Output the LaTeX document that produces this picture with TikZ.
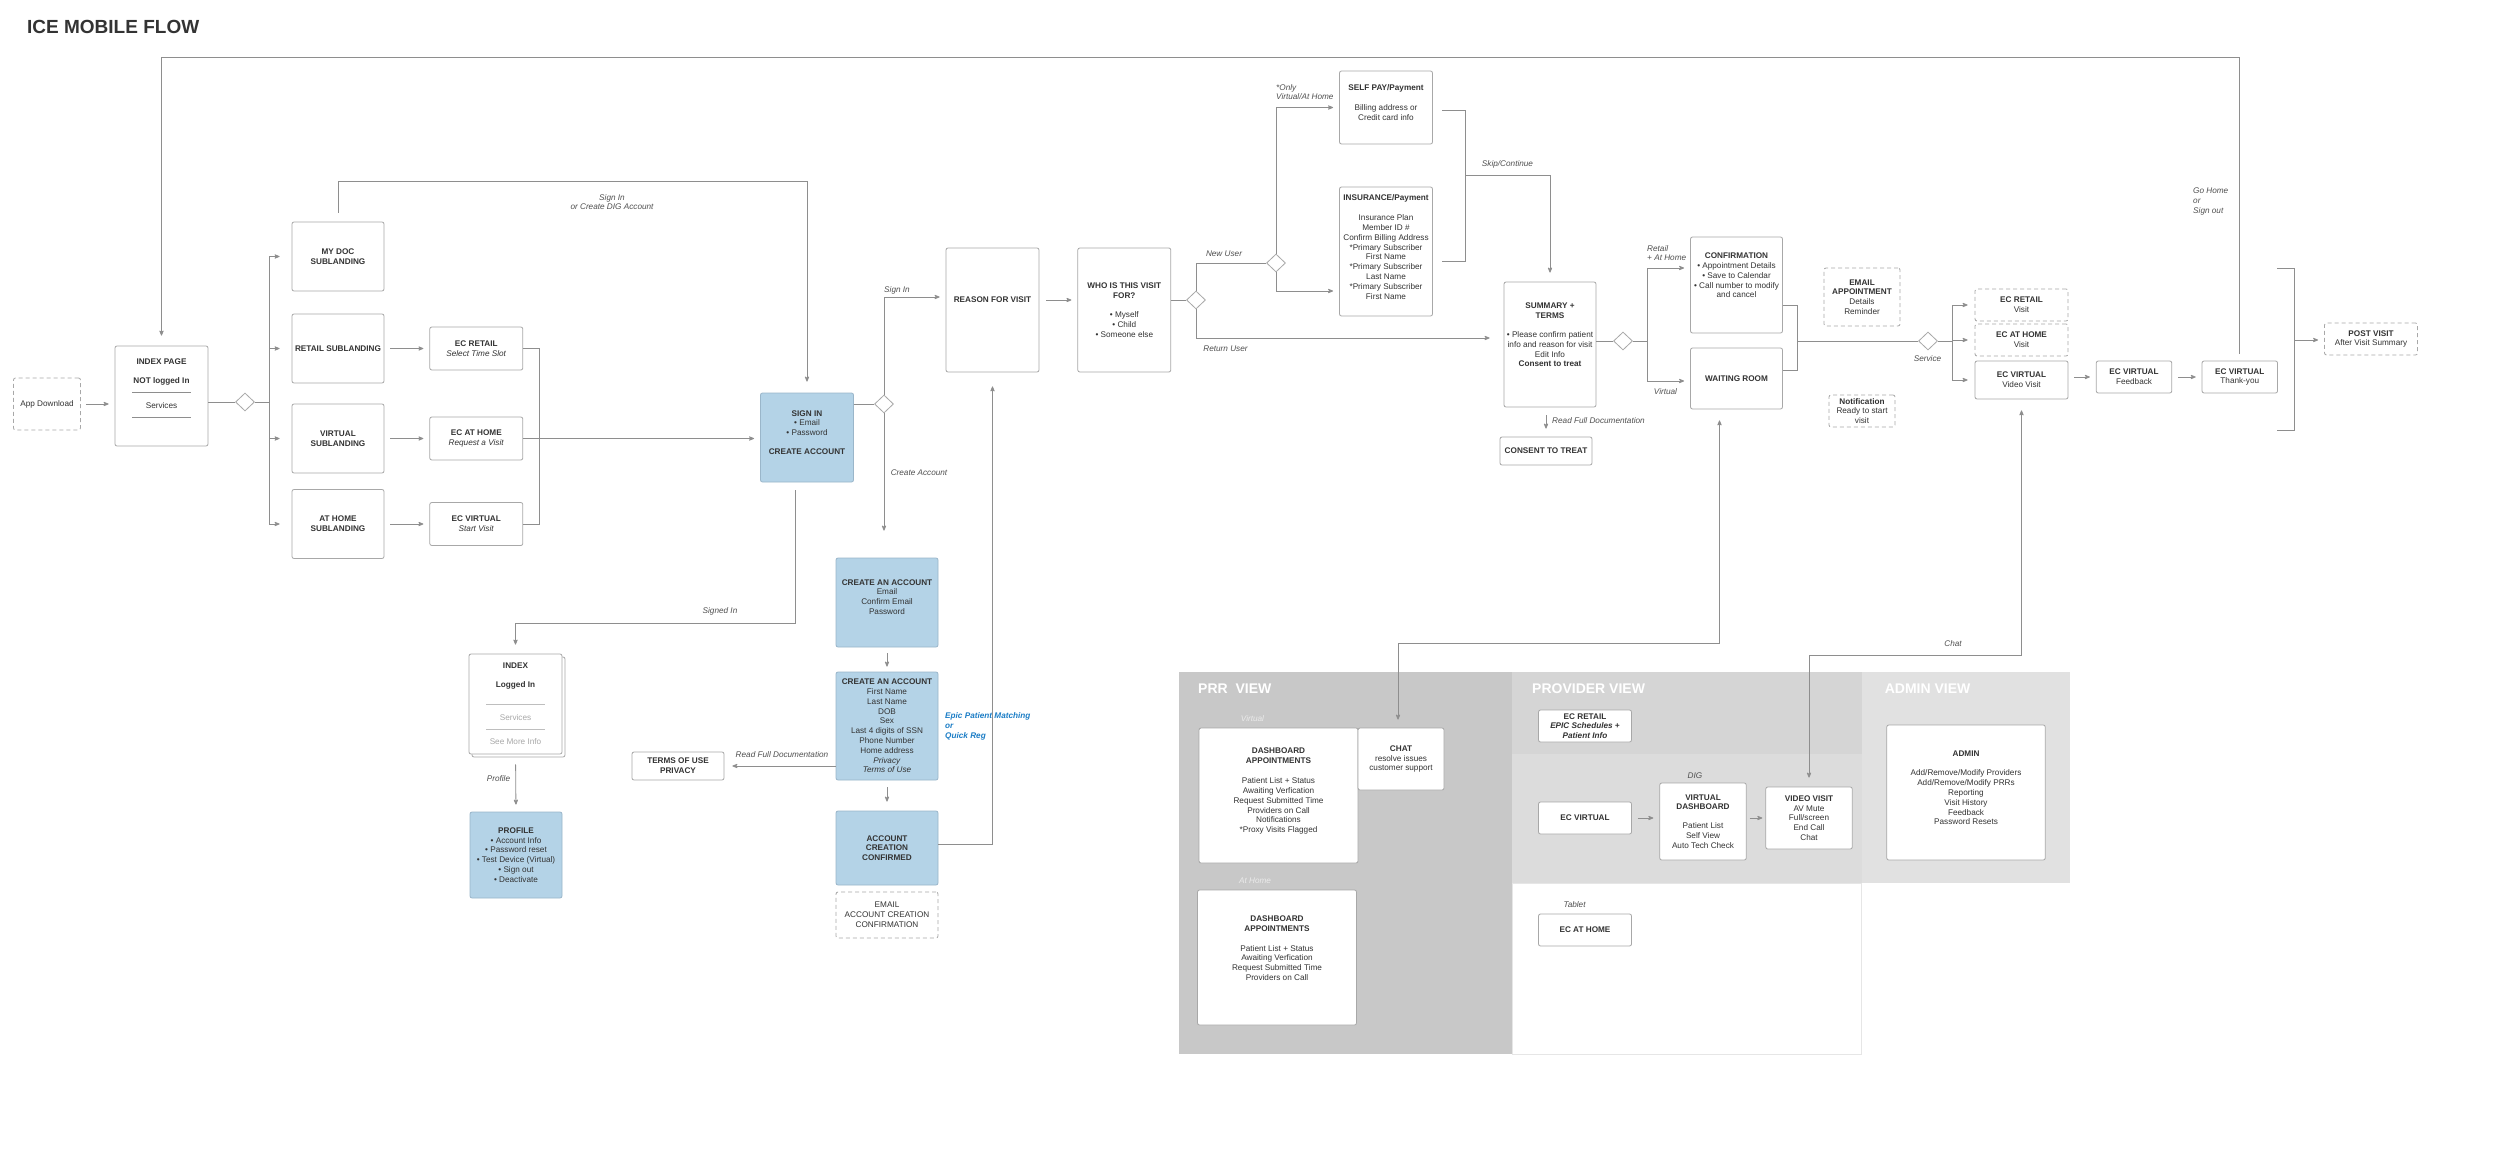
\documentclass[tikz,border=0pt]{standalone}
\usepackage{fontspec}
\setmainfont{Liberation Sans}
\usepackage{tikz}
\usetikzlibrary{arrows,positioning,shapes.geometric,shadows}

\definecolor{linegray}{HTML}{8E8E8E}
\definecolor{boxgray}{HTML}{A8A8A8}
\definecolor{textdark}{HTML}{333333}
\definecolor{labelgray}{HTML}{505050}
\definecolor{softgray}{HTML}{A8A8A8}
\definecolor{rulegray}{HTML}{BEBEBE}
\definecolor{bluefill}{HTML}{B4D3E7}
\definecolor{blueline}{HTML}{9AB6CA}
\definecolor{epicblue}{HTML}{1B7DC6}
\definecolor{prrgray}{HTML}{C8C8C8}
\definecolor{provtop}{HTML}{D5D5D5}
\definecolor{provmid}{HTML}{DCDCDC}
\definecolor{admingray}{HTML}{E1E1E1}
\definecolor{panelline}{HTML}{E6E6E6}
\definecolor{paletext}{HTML}{EBEBEB}

\newcommand{\flowfont}{\fontsize{8.2}{9.8}\selectfont}

\begin{document}
\begin{tikzpicture}[x=1pt, y=-1pt, >=stealth', font=\flowfont, text=textdark,
    box/.style={draw=boxgray, line width=0.8pt, fill=white, rounded corners=2pt,
                align=center, inner sep=1pt, minimum width=93pt},
    dashbox/.style={box, dash pattern=on 4pt off 3pt},
    bluebox/.style={box, draw=blueline, fill=bluefill},
    decision/.style={diamond, draw=boxgray, line width=0.8pt, fill=white,
                     minimum width=19pt, minimum height=18pt, inner sep=0pt},
    lift/.style={text depth=#1},
    conn/.style={draw=linegray, line width=0.8pt},
    flow/.style={conn, ->, shorten >=6pt},
    flowboth/.style={conn, <->},
    lbl/.style={font=\flowfont\itshape, text=labelgray, inner sep=0pt, align=center},
    paneltitle/.style={font=\fontsize{14}{16}\selectfont\bfseries, text=white,
                       anchor=west, inner sep=0pt}]

    \useasboundingbox (0,0) rectangle (2500,1161);
    \fill[white] (0,0) rectangle (2500,1161);

    % Panels {PRR, provider, admin}
    \fill[prrgray] (1179,672) rectangle (1512,1054);
    \fill[provtop] (1512,672) rectangle (1861.5,754);
    \fill[provmid] (1512,754) rectangle (1861.5,883);
    \draw[panelline, line width=0.8pt, fill=white] (1512,883) rectangle (1861.5,1054);
    \fill[admingray] (1861.5,672) rectangle (2070,883);

    % Nodes {entry, sublanding}
    \node[font=\fontsize{19}{22}\selectfont\bfseries, anchor=west, inner sep=0pt] (title) at (27,27) {ICE MOBILE FLOW};
    \node[dashbox, minimum width=67pt, minimum height=52pt] (appdl) at (47,404) {App Download};
    \node[box, minimum height=100pt, lift=15pt] (index) at (161.5,396)
        {\textbf{INDEX PAGE}\\[9.2pt]\textbf{NOT logged In}\\[-0.8pt]\textcolor{linegray}{\rule{59pt}{0.8pt}}\\[6.2pt]Services\\[-0.8pt]\textcolor{linegray}{\rule{59pt}{0.8pt}}};
    \node[decision] (split1) at (245,402) {};
    \coordinate (trunk) at (269,402);

    \node[box, minimum width=92pt, minimum height=69pt] (mydoc) at (338,256.5) {\textbf{MY DOC}\\\textbf{SUBLANDING}};
    \node[box, minimum width=92pt, minimum height=69pt] (retailsub) at (338,348.5) {\textbf{RETAIL SUBLANDING}};
    \node[box, minimum width=92pt, minimum height=69pt] (virtualsub) at (338,438.5) {\textbf{VIRTUAL}\\\textbf{SUBLANDING}};
    \node[box, minimum width=92pt, minimum height=69pt] (homesub) at (338,524) {\textbf{AT HOME}\\\textbf{SUBLANDING}};
    \node[box, minimum height=43pt, right=45pt of retailsub] (ecretail) {\textbf{EC RETAIL}\\\textit{Select Time Slot}};
    \node[box, minimum height=43pt, right=45pt of virtualsub] (echome) {\textbf{EC AT HOME}\\\textit{Request a Visit}};
    \node[box, minimum height=43pt, right=45pt of homesub] (ecvirtual) {\textbf{EC VIRTUAL}\\\textit{Start Visit}};

    % Nodes {sign in, account}
    \node[bluebox, minimum height=89pt, lift=10pt] (signin) at (807,437.5)
        {\textbf{SIGN IN}\\• Email\\• Password\\[9.2pt]\textbf{CREATE ACCOUNT}};
    \node[decision] (split2) at (884,404) {};
    \node[bluebox, minimum width=102pt, minimum height=89pt, lift=11pt] (create1) at (887,602.5)
        {\textbf{CREATE AN ACCOUNT}\\Email\\Confirm Email\\Password};
    \node[bluebox, minimum width=102pt, minimum height=108pt] (create2) at (887,726)
        {\textbf{CREATE AN ACCOUNT}\\First Name\\Last Name\\DOB\\Sex\\Last 4 digits of SSN\\Phone Number\\Home address\\\textit{Privacy}\\\textit{Terms of Use}};
    \node[bluebox, minimum width=102pt, minimum height=74pt] (confirmed) at (887,848)
        {\textbf{ACCOUNT}\\\textbf{CREATION}\\\textbf{CONFIRMED}};
    \node[dashbox, minimum width=102pt, minimum height=46pt] (emailconf) at (887,915)
        {EMAIL\\ACCOUNT CREATION\\CONFIRMATION};
    \node[box, minimum width=92pt, minimum height=28pt] (terms) at (678,766) {\textbf{TERMS OF USE}\\\textbf{PRIVACY}};
    \node[anchor=west, align=left, inner sep=0pt, text=epicblue, font=\flowfont\bfseries\itshape] (epic) at (945,726.5)
        {Epic Patient Matching\\or\\Quick Reg};
    \node[box, minimum height=100pt, copy shadow={shadow xshift=3pt, shadow yshift=-3pt}] (index2) at (515.5,704)
        {\textbf{INDEX}\\[9.2pt]\textbf{Logged In}\\[7.2pt]\textcolor{rulegray}{\rule{59pt}{0.6pt}}\\[6.2pt]\textcolor{softgray}{Services}\\[-0.8pt]\textcolor{rulegray}{\rule{59pt}{0.6pt}}\\[5.2pt]\textcolor{softgray}{See More Info}};
    \node[bluebox, minimum width=92pt, minimum height=86pt] (profile) at (516,855)
        {\textbf{PROFILE}\\• Account Info\\• Password reset\\• Test Device (Virtual)\\• Sign out\\• Deactivate};

    % Nodes {visit flow}
    \node[box, minimum height=124pt, lift=20pt] (reason) at (992.5,310) {\textbf{REASON FOR VISIT}};
    \node[box, minimum height=124pt, right=38pt of reason] (who)
        {\textbf{WHO IS THIS VISIT}\\\textbf{FOR?}\\[9.2pt]• Myself\\• Child\\• Someone else};
    \node[decision] (split3) at (1196,300) {};
    \node[decision] (split4) at (1276,263) {};
    \node[box, minimum height=73pt, lift=10pt] (selfpay) at (1386,107.5)
        {\textbf{SELF PAY/Payment}\\[10.2pt]Billing address or\\Credit card info};
    \node[box, minimum height=129pt, lift=9pt] (insurance) at (1386,251.5)
        {\textbf{INSURANCE/Payment}\\[10.2pt]Insurance Plan\\Member ID \#\\Confirm Billing Address\\*Primary Subscriber\\First Name\\*Primary Subscriber\\Last Name\\*Primary Subscriber\\First Name};
    \coordinate (paytop) at (1442,110);
    \coordinate (paybot) at (1442,261);
    \coordinate (payjoin) at (1465,175);
    \node[box, minimum width=92pt, minimum height=125pt, lift=19pt] (summary) at (1550,344.5)
        {\textbf{SUMMARY +}\\\textbf{TERMS}\\[9.2pt]• Please confirm patient\\info and reason for visit\\Edit Info\\\textbf{Consent to treat}};
    \node[box, minimum width=92pt, minimum height=28pt] (consent) at (1546,451) {\textbf{CONSENT TO TREAT}};
    \node[decision] (split5) at (1623,341) {};
    \coordinate (visitfork) at (1647,341);
    \node[box, minimum width=92pt, minimum height=96pt, lift=19pt] (confirm) at (1736.5,285)
        {\textbf{CONFIRMATION}\\• Appointment Details\\• Save to Calendar\\• Call number to modify\\and cancel};
    \node[box, minimum width=92pt, minimum height=61pt] (waiting) at (1736.5,378.5) {\textbf{WAITING ROOM}};
    \coordinate (visitjoin) at (1797,341);
    \node[dashbox, minimum width=76pt, minimum height=58pt] (emailappt) at (1862,297)
        {\textbf{EMAIL}\\\textbf{APPOINTMENT}\\Details\\Reminder};
    \node[dashbox, minimum width=66pt, minimum height=32pt] (notify) at (1862,411)
        {\textbf{Notification}\\Ready to start\\visit};
    \node[decision] (split6) at (1928,341) {};
    \coordinate (svcfork) at (1952.5,341);
    \node[dashbox, minimum height=32pt] (ecretailv) at (2021.5,305) {\textbf{EC RETAIL}\\Visit};
    \node[dashbox, minimum height=32pt] (echomev) at (2021.5,340) {\textbf{EC AT HOME}\\Visit};
    \node[box, minimum height=38pt] (ecvirtualv) at (2021.5,380) {\textbf{EC VIRTUAL}\\Video Visit};
    \node[box, minimum width=75.5pt, minimum height=32pt] (feedback) at (2134,377) {\textbf{EC VIRTUAL}\\Feedback};
    \node[box, minimum width=75.5pt, minimum height=32pt, right=29.5pt of feedback] (thanks) {\textbf{EC VIRTUAL}\\Thank-you};
    \coordinate (posttop) at (2277,268);
    \coordinate (postbot) at (2277,430);
    \coordinate (postjoin) at (2294.5,340);
    \node[dashbox, minimum height=32pt] (postvisit) at (2371,339) {\textbf{POST VISIT}\\After Visit Summary};

    % Nodes {views}
    \node[paneltitle] (prrtitle) at (1198,689) {PRR\ \ VIEW};
    \node[paneltitle] (provtitle) at (1532,689) {PROVIDER VIEW};
    \node[paneltitle] (admintitle) at (1884.6,689) {ADMIN VIEW};
    \node[box, minimum width=159pt, minimum height=135pt, lift=10pt] (dash1) at (1278.5,795.5)
        {\textbf{DASHBOARD}\\\textbf{APPOINTMENTS}\\[10.2pt]Patient List + Status\\Awaiting Verfication\\Request Submitted Time\\Providers on Call\\Notifications\\*Proxy Visits Flagged};
    \node[box, minimum width=86pt, minimum height=62pt] (chat) at (1401,759) {\textbf{CHAT}\\resolve issues\\customer support};
    \node[box, minimum width=159pt, minimum height=135pt, lift=19pt] (dash2) at (1277,957.5)
        {\textbf{DASHBOARD}\\\textbf{APPOINTMENTS}\\[10.2pt]Patient List + Status\\Awaiting Verfication\\Request Submitted Time\\Providers on Call};
    \node[box, minimum height=32pt] (provretail) at (1585,726)
        {\textbf{EC RETAIL}\\\textbf{\textit{EPIC Schedules +}}\\\textbf{\textit{Patient Info}}};
    \node[box, minimum height=32pt] (provvirtual) at (1585,818) {\textbf{EC VIRTUAL}};
    \node[box, minimum width=86.5pt, minimum height=77pt] (virtualdash) at (1703,821.5)
        {\textbf{VIRTUAL}\\\textbf{DASHBOARD}\\[9.2pt]Patient List\\Self View\\Auto Tech Check};
    \node[box, minimum width=86.5pt, minimum height=62pt] (videovisit) at (1809,818)
        {\textbf{VIDEO VISIT}\\AV Mute\\Full/screen\\End Call\\Chat};
    \node[box, minimum height=32pt] (provhome) at (1585,930) {\textbf{EC AT HOME}};
    \node[box, minimum width=158.5pt, minimum height=135pt, lift=9pt] (admin) at (1966,792.5)
        {\textbf{ADMIN}\\[9.2pt]Add/Remove/Modify Providers\\Add/Remove/Modify PRRs\\Reporting\\Visit History\\Feedback\\Password Resets};

    % Labels
    \node[lbl] (l-dig) at (612,202) {Sign In\\or Create DIG Account};
    \node[lbl] (l-signin) at (897,290) {Sign In};
    \node[lbl] (l-create) at (919,473) {Create Account};
    \node[lbl] (l-signed) at (720,611) {Signed In};
    \node[lbl] (l-readterms) at (782,755) {Read Full Documentation};
    \node[lbl] (l-profile) at (498.5,779) {Profile};
    \node[lbl] (l-new) at (1224,254) {New User};
    \node[lbl] (l-return) at (1225.5,349) {Return User};
    \node[lbl, anchor=west, align=left] (l-only) at (1276,92) {*Only\\Virtual/At Home};
    \node[lbl] (l-skip) at (1507.5,164) {Skip/Continue};
    \node[lbl, anchor=west] (l-readconsent) at (1552,421) {Read Full Documentation};
    \node[lbl, anchor=west, align=left] (l-retail) at (1647,253) {Retail\\+ At Home};
    \node[lbl] (l-virtual) at (1665.5,392) {Virtual};
    \node[lbl] (l-service) at (1927.5,359) {Service};
    \node[lbl, anchor=west, align=left] (l-home) at (2193,201.5) {Go Home\\or\\Sign out};
    \node[lbl] (l-chat) at (1953,644) {Chat};
    \node[lbl, text=paletext] (l-prrvirtual) at (1252.5,719) {Virtual};
    \node[lbl, text=paletext] (l-prrhome) at (1255,880.5) {At Home};
    \node[lbl] (l-tablet) at (1574.5,905) {Tablet};
    \node[lbl] (l-dig2) at (1695,776) {DIG};

    % Paths
    \draw[flow, shorten <=5pt] (appdl.east) -- (appdl.east -| index.west);
    \draw[conn] (index.east |- split1) -- (split1.west);
    \draw[conn] (split1.east) -- (trunk);
    \foreach \sub in {mydoc,retailsub,virtualsub,homesub}
        \draw[flow, shorten >=12pt] (trunk) |- (\sub.west);
    \foreach \sub/\ec in {retailsub/ecretail,virtualsub/echome,homesub/ecvirtual}
        \draw[flow, shorten <=6pt] (\sub) -- (\ec);
    \draw[conn] (ecretail.east) -- ++(16,0) |- (ecvirtual.east);
    \draw[flow] (echome.east) -- (echome.east -| signin.west);
    \draw[flow, shorten <=9pt, shorten >=11pt] (mydoc.north) -- (mydoc.north |- 0,181) -| (signin.north);
    \draw[conn] (signin.east |- split2) -- (split2.west);
    \draw[flow] (split2.north) |- (reason.west |- 0,297);
    \draw[flow, shorten >=27pt] (split2.south) -- (split2.south |- create1.north);
    \draw[flow, shorten <=8pt, shorten >=9pt] (signin.south -| 795,0) -- (795,623) -| (index2.north);
    \draw[flow, shorten <=10pt, shorten >=7pt] (index2.south) -- (profile.north);
    \draw[flow, shorten <=6pt, shorten >=5pt] (create1.south) -- (create2.north);
    \draw[flow, shorten <=7pt, shorten >=9pt] (create2.south) -- (confirmed.north);
    \draw[flow, shorten >=8pt] (create2.west |- terms) -- (terms.east);
    \draw[flow, shorten >=14pt] (confirmed.east |- 0,844) -| (reason.south);

    \draw[flow, shorten <=7pt] (reason.east |- 0,300) -- (who.west |- 0,300);
    \draw[conn] (who.east |- split3) -- (split3.west);
    \draw[conn] (split3.north) |- (split4.west);
    \draw[flow, shorten >=14pt] (split3.south) |- (summary.west |- 0,338);
    \draw[flow] (split4.north) |- (selfpay.west);
    \draw[flow] (split4.south) |- (insurance.west |- 0,291);
    \draw[conn] (paytop) -| (payjoin) |- (paybot);
    \draw[flow, shorten >=9pt] (payjoin) -| (summary.north);
    \draw[flow, shorten <=8pt, shorten >=8pt] (consent.north |- summary.south) -- (consent.north);
    \draw[conn] (summary.east |- split5) -- (split5.west);
    \draw[conn] (split5.east) -- (visitfork);
    \draw[flow] (visitfork) |- (confirm.west |- 0,268);
    \draw[flow] (visitfork) |- (waiting.west |- 0,381);
    \draw[conn] (confirm.east |- 0,305) -| (visitjoin) |- (waiting.east |- 0,370);
    \draw[conn] (visitjoin) -- (split6.west);
    \draw[conn] (split6.east) -- (svcfork);
    \foreach \ec in {ecretailv,echomev,ecvirtualv}
        \draw[flow, shorten >=7pt] (svcfork) |- (\ec.west);
    \draw[flow, shorten <=6pt] (ecvirtualv.east |- feedback) -- (feedback.west);
    \draw[flow, shorten <=6pt] (feedback) -- (thanks);
    \draw[flow, shorten <=7pt, shorten >=10pt] (thanks.north) -- (thanks.north |- 0,57) -| (index.north);
    \draw[conn] (posttop) -| (postjoin) |- (postbot);
    \draw[flow] (postjoin) -- (postjoin -| postvisit.west);

    \draw[flowboth, shorten <=8pt, shorten >=11pt] (chat.north -| 1398,0) -- (1398,643) -| (waiting.south -| 1719.5,0);
    \draw[flowboth, shorten <=9pt, shorten >=11pt] (videovisit.north) -- (videovisit.north |- 0,655) -| (ecvirtualv.south);
    \draw[flow, shorten <=6pt] (provvirtual.east) -- (provvirtual.east -| virtualdash.west);
    \draw[flow, shorten <=3pt, shorten >=3pt] (virtualdash.east |- videovisit) -- (videovisit.west);

\end{tikzpicture}
\end{document}
